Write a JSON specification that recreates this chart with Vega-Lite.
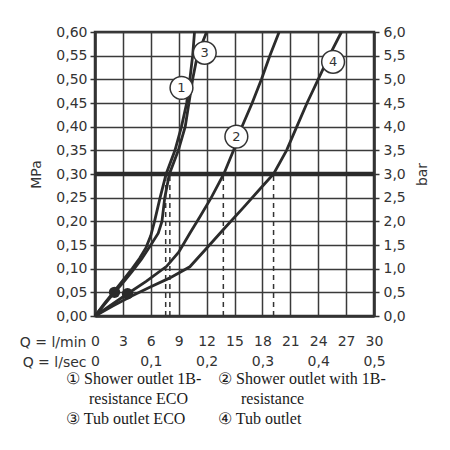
{
  "$schema": "https://vega.github.io/schema/vega-lite/v6.json",
  "width": 279,
  "height": 284,
  "autosize": "none",
  "padding": {"left": 95, "top": 32, "right": 76, "bottom": 134},
  "background": "white",
  "datasets": {
    "curves": [
      {"c": "1", "Q": 0, "P": 0}, {"c": "1", "Q": 1, "P": 0.026}, {"c": "1", "Q": 2.1, "P": 0.053}, {"c": "1", "Q": 3, "P": 0.075}, {"c": "1", "Q": 4, "P": 0.1}, {"c": "1", "Q": 4.8, "P": 0.122}, {"c": "1", "Q": 5.5, "P": 0.145}, {"c": "1", "Q": 6.0, "P": 0.17}, {"c": "1", "Q": 6.4, "P": 0.2}, {"c": "1", "Q": 7.0, "P": 0.25}, {"c": "1", "Q": 7.65, "P": 0.3}, {"c": "1", "Q": 8.6, "P": 0.35}, {"c": "1", "Q": 9.3, "P": 0.4}, {"c": "1", "Q": 9.86, "P": 0.45}, {"c": "1", "Q": 10.2, "P": 0.5}, {"c": "1", "Q": 10.5, "P": 0.55}, {"c": "1", "Q": 10.7, "P": 0.6},
      {"c": "3", "Q": 0, "P": 0}, {"c": "3", "Q": 1, "P": 0.024}, {"c": "3", "Q": 2.1, "P": 0.05}, {"c": "3", "Q": 3, "P": 0.07}, {"c": "3", "Q": 4, "P": 0.094}, {"c": "3", "Q": 5, "P": 0.12}, {"c": "3", "Q": 6, "P": 0.15}, {"c": "3", "Q": 6.8, "P": 0.175}, {"c": "3", "Q": 7.2, "P": 0.2}, {"c": "3", "Q": 7.5, "P": 0.25}, {"c": "3", "Q": 8.0, "P": 0.3}, {"c": "3", "Q": 8.96, "P": 0.35}, {"c": "3", "Q": 9.7, "P": 0.4}, {"c": "3", "Q": 10.1, "P": 0.45}, {"c": "3", "Q": 10.5, "P": 0.5}, {"c": "3", "Q": 11.0, "P": 0.55}, {"c": "3", "Q": 12.0, "P": 0.6},
      {"c": "2", "Q": 0, "P": 0}, {"c": "2", "Q": 1.5, "P": 0.02}, {"c": "2", "Q": 3.5, "P": 0.047}, {"c": "2", "Q": 5.5, "P": 0.073}, {"c": "2", "Q": 7.7, "P": 0.105}, {"c": "2", "Q": 9, "P": 0.135}, {"c": "2", "Q": 10.2, "P": 0.175}, {"c": "2", "Q": 11.3, "P": 0.21}, {"c": "2", "Q": 12.5, "P": 0.25}, {"c": "2", "Q": 13.85, "P": 0.3}, {"c": "2", "Q": 14.9, "P": 0.35}, {"c": "2", "Q": 15.8, "P": 0.4}, {"c": "2", "Q": 16.9, "P": 0.45}, {"c": "2", "Q": 17.9, "P": 0.5}, {"c": "2", "Q": 18.8, "P": 0.55}, {"c": "2", "Q": 19.8, "P": 0.6},
      {"c": "4", "Q": 0, "P": 0}, {"c": "4", "Q": 2, "P": 0.022}, {"c": "4", "Q": 4, "P": 0.043}, {"c": "4", "Q": 6, "P": 0.062}, {"c": "4", "Q": 8, "P": 0.08}, {"c": "4", "Q": 10.2, "P": 0.104}, {"c": "4", "Q": 12, "P": 0.143}, {"c": "4", "Q": 14, "P": 0.187}, {"c": "4", "Q": 16, "P": 0.23}, {"c": "4", "Q": 18, "P": 0.274}, {"c": "4", "Q": 19.2, "P": 0.3}, {"c": "4", "Q": 20.6, "P": 0.35}, {"c": "4", "Q": 21.7, "P": 0.4}, {"c": "4", "Q": 22.8, "P": 0.45}, {"c": "4", "Q": 24.0, "P": 0.5}, {"c": "4", "Q": 25.2, "P": 0.55}, {"c": "4", "Q": 26.5, "P": 0.6}
    ],
    "drops": [{"Q": 7.6}, {"Q": 8.05}, {"Q": 13.8}, {"Q": 19.2}],
    "ref": [{"P": 0.3}],
    "dots": [{"Q": 2.1, "P": 0.05}, {"Q": 3.5, "P": 0.047}],
    "labels": [
      {"n": "1", "Q": 9.3, "P": 0.482},
      {"n": "3", "Q": 11.8, "P": 0.556},
      {"n": "2", "Q": 15.2, "P": 0.379},
      {"n": "4", "Q": 25.6, "P": 0.537}
    ]
  },
  "layer": [
    {
      "data": {"name": "curves"},
      "mark": {"type": "line", "strokeWidth": 2.8},
      "encoding": {
        "x": {
          "field": "Q", "type": "quantitative",
          "scale": {"domain": [0, 30], "nice": false, "zero": true},
          "axis": {
            "orient": "bottom",
            "values": [0, 3, 6, 9, 12, 15, 18, 21, 24, 27, 30],
            "title": "Q = l/min",
            "grid": true,
            "ticks": false,
            "labelPadding": 18,
            "labelDx": 2,
            "labelFlush": false,
            "titleAlign": "right",
            "titleBaseline": "middle",
            "titleX": -9,
            "titleY": 26
          }
        },
        "y": {
          "field": "P", "type": "quantitative",
          "scale": {"domain": [0, 0.6], "nice": false},
          "axis": {
            "orient": "left",
            "values": [0, 0.05, 0.1, 0.15, 0.2, 0.25, 0.3, 0.35, 0.4, 0.45, 0.5, 0.55, 0.6],
            "labelExpr": "replace(format(datum.value, '.2f'), '.', ',')",
            "title": "MPa",
            "grid": true,
            "tickSize": 5,
            "labelPadding": 3,
            "labelFlush": false,
            "titlePadding": 12
          }
        },
        "color": {
          "field": "c", "type": "nominal",
          "scale": {"domain": ["1", "2", "1b", "2b", "3", "4"], "range": ["#2b2b2b", "#2b2b2b", "#2b2b2b", "#2b2b2b", "#2b2b2b", "#2b2b2b"]},
          "legend": {
            "orient": "none",
            "direction": "horizontal",
            "legendX": -45,
            "legendY": 337,
            "columns": 2,
            "title": null,
            "padding": 0,
            "symbolSize": 0,
            "symbolStrokeWidth": 0,
            "symbolOpacity": 0,
            "labelOffset": 0,
            "labelFont": "Liberation Serif",
            "labelFontSize": 16,
            "labelColor": "#1a1a1a",
            "labelLimit": 400,
            "labelBaseline": "middle",
            "clipHeight": 20,
            "columnPadding": -2,
            "rowPadding": 0,
            "labelExpr": "datum.value == '1' ? '① Shower outlet 1B-' : datum.value == '1b' ? 'resistance ECO' : datum.value == '2' ? '② Shower outlet with 1B-' : datum.value == '2b' ? 'resistance' : datum.value == '3' ? '③ Tub outlet ECO' : '④ Tub outlet'",
            "encode": {"labels": {"update": {"dx": {"signal": "datum.value == '1b' || datum.value == '2b' ? 23 : 0"}}}}
          }
        }
      }
    },
    {
      "data": {"name": "drops"},
      "mark": {"type": "rule", "strokeDash": [5, 4], "strokeWidth": 1.5, "color": "#333333"},
      "encoding": {
        "x": {
          "field": "Q", "type": "quantitative",
          "axis": {
            "orient": "bottom",
            "values": [0, 6, 12, 18, 24, 30],
            "labelExpr": "datum.value == 0 ? '0' : replace(format(datum.value / 60, '.1f'), '.', ',')",
            "title": "Q = l/sec",
            "grid": false,
            "domain": false,
            "ticks": false,
            "labelPadding": 38,
            "labelDx": 2,
            "labelFlush": false,
            "titleAlign": "right",
            "titleBaseline": "middle",
            "titleX": -9,
            "titleY": 46
          }
        },
        "y": {"datum": 0, "type": "quantitative", "axis": null},
        "y2": {"datum": 0.3}
      }
    },
    {
      "data": {"name": "ref"},
      "mark": {"type": "rule", "strokeWidth": 4.5, "color": "#2b2b2b"},
      "encoding": {
        "y": {
          "field": "P", "type": "quantitative",
          "axis": {
            "orient": "right",
            "values": [0, 0.05, 0.1, 0.15, 0.2, 0.25, 0.3, 0.35, 0.4, 0.45, 0.5, 0.55, 0.6],
            "labelExpr": "replace(format(datum.value * 10, '.1f'), '.', ',')",
            "title": "bar",
            "titleAngle": 270,
            "titleBaseline": "top",
            "grid": false,
            "tickSize": 5,
            "labelPadding": 4,
            "labelFlush": false,
            "titlePadding": 10
          }
        }
      }
    },
    {
      "data": {"name": "dots"},
      "mark": {"type": "point", "filled": true, "size": 130, "color": "#2b2b2b", "opacity": 1},
      "encoding": {
        "x": {"field": "Q", "type": "quantitative", "axis": null},
        "y": {"field": "P", "type": "quantitative", "axis": null}
      }
    },
    {
      "data": {"name": "labels"},
      "mark": {"type": "point", "filled": true, "size": 520, "fill": "white", "stroke": "#333333", "strokeWidth": 1.5, "opacity": 1},
      "encoding": {
        "x": {"field": "Q", "type": "quantitative", "axis": null},
        "y": {"field": "P", "type": "quantitative", "axis": null}
      }
    },
    {
      "data": {"name": "labels"},
      "mark": {"type": "text", "font": "DejaVu Sans", "fontSize": 13, "color": "#333333", "baseline": "middle", "align": "center"},
      "encoding": {
        "x": {"field": "Q", "type": "quantitative", "axis": null},
        "y": {"field": "P", "type": "quantitative", "axis": null},
        "text": {"field": "n"}
      }
    }
  ],
  "resolve": {"axis": {"x": "independent", "y": "independent"}},
  "config": {
    "view": {"stroke": "#333333", "strokeWidth": 2.5},
    "axis": {
      "labelFont": "DejaVu Sans",
      "labelFontSize": 14,
      "labelColor": "#333333",
      "titleFont": "DejaVu Sans",
      "titleFontSize": 14,
      "titleFontWeight": "normal",
      "titleColor": "#333333",
      "gridColor": "#3a3a3a",
      "gridWidth": 1.5,
      "gridOpacity": 1,
      "domainColor": "#333333",
      "domainWidth": 2.5,
      "tickColor": "#333333",
      "tickWidth": 1.5
    }
  }
}
